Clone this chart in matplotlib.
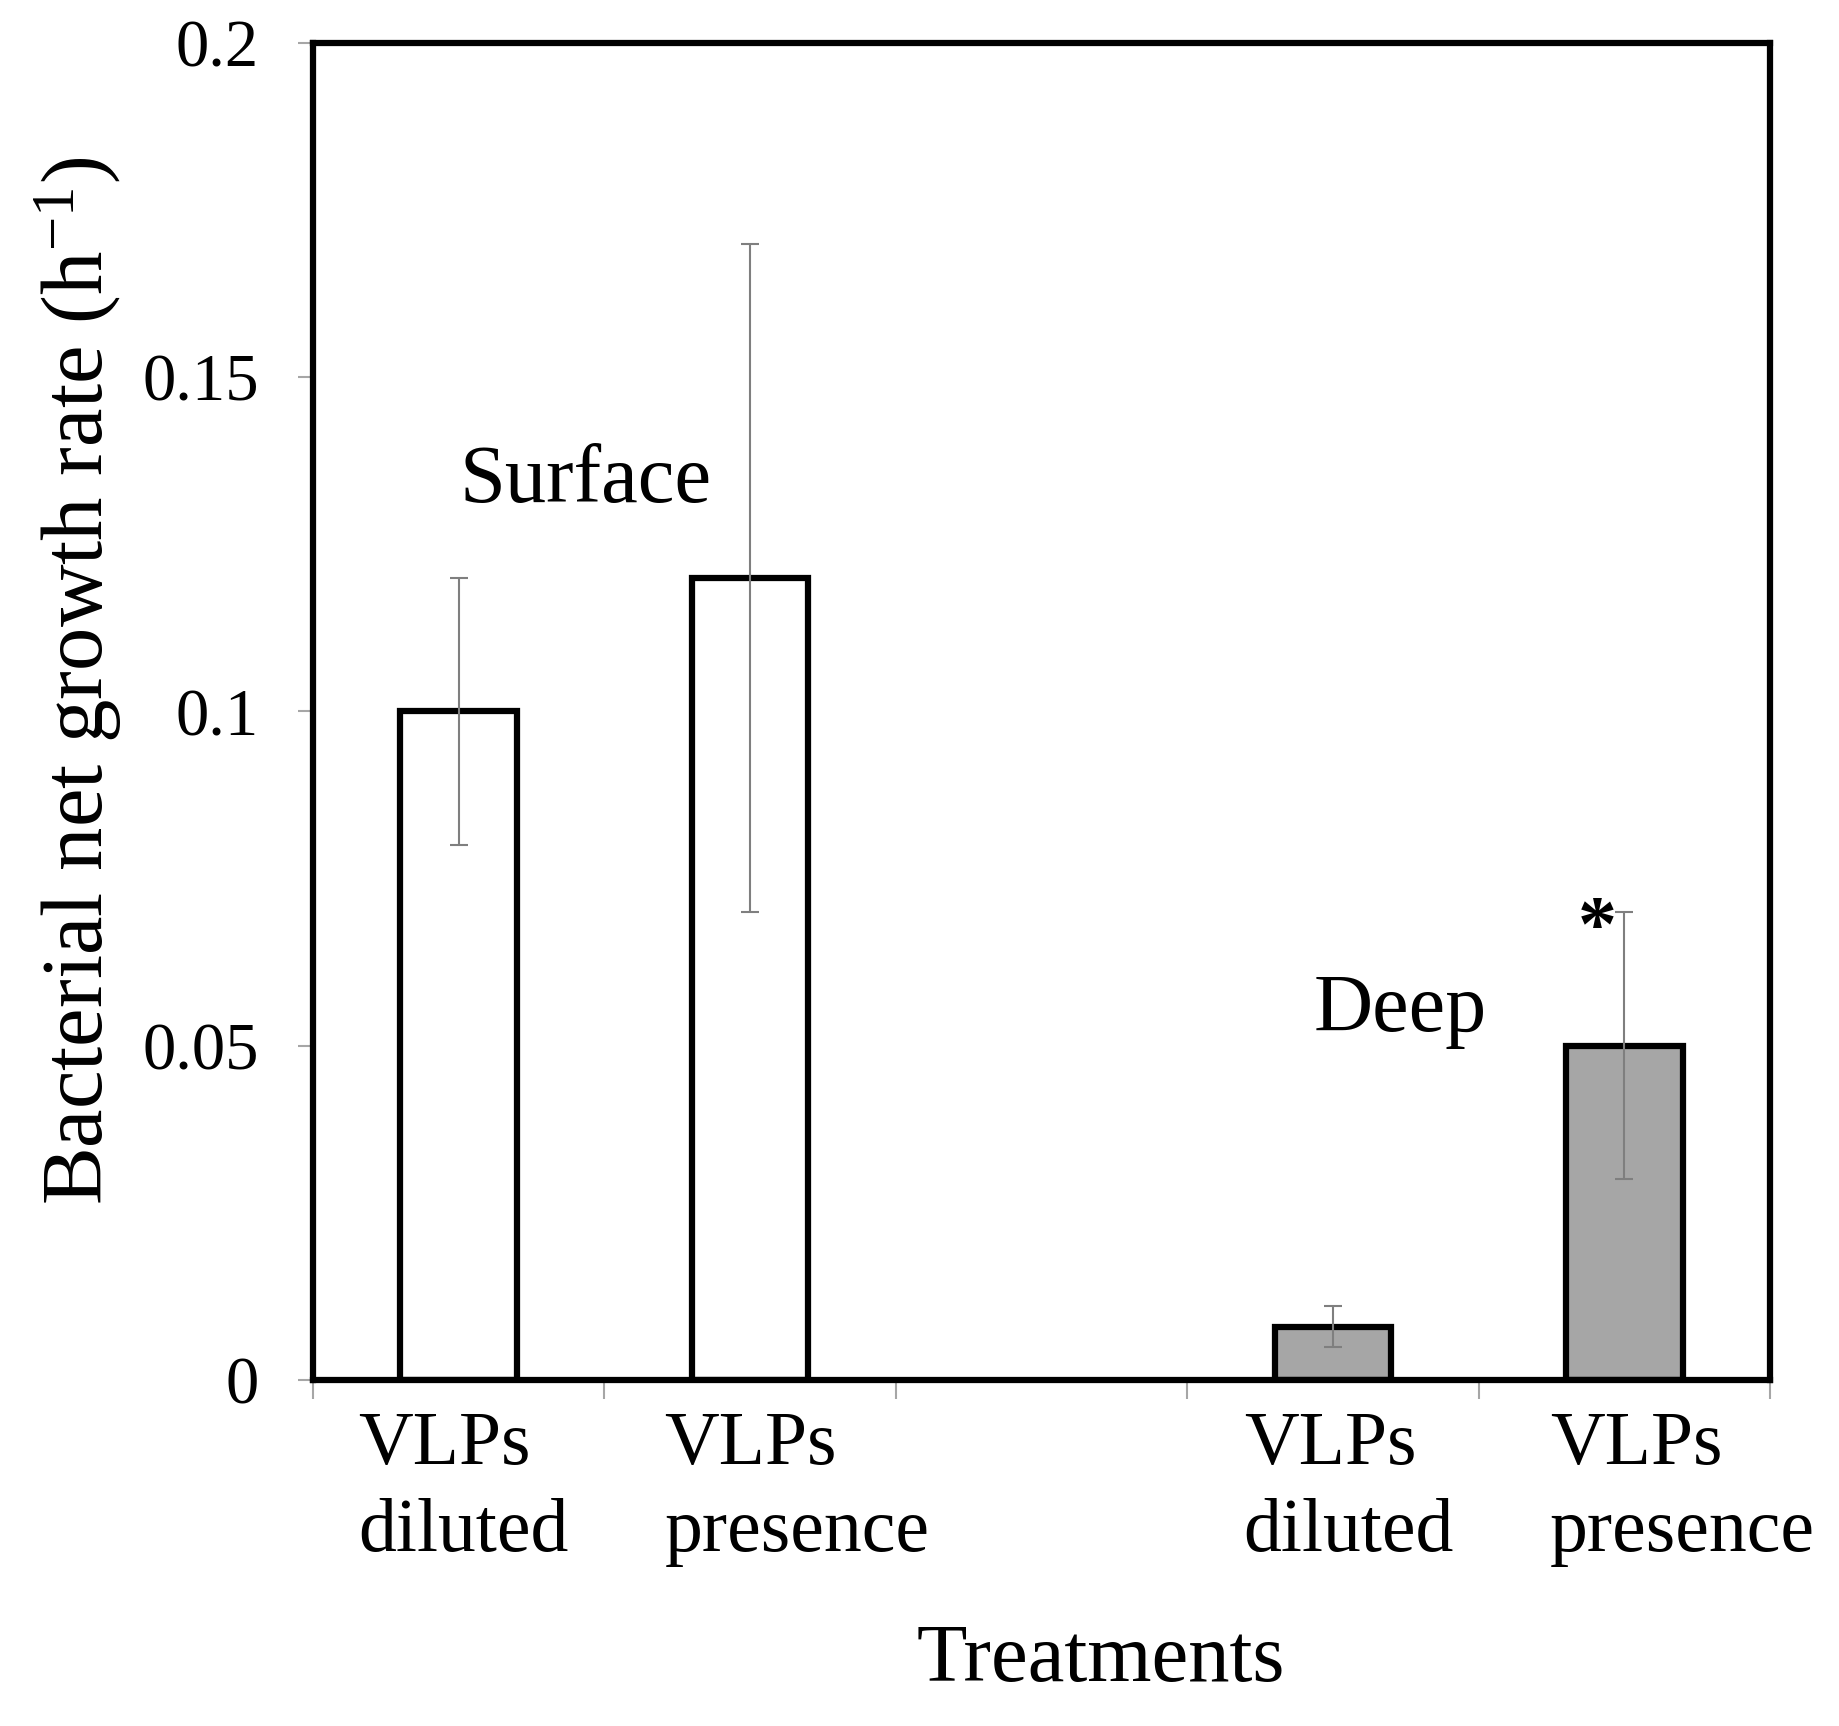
import matplotlib
matplotlib.use('Agg')
import matplotlib.pyplot as plt
import matplotlib.transforms as mtransforms
import numpy as np

# values
categories = ['VLPs\ndiluted', 'VLPs\npresence', '', 'VLPs\ndiluted', 'VLPs\npresence']
surface_pos = [0, 1]
surface_values = [0.10, 0.12]
surface_errors = [0.02, 0.05]
deep_pos = [3, 4]
deep_values = [0.008, 0.05]
deep_errors = [0.003, 0.02]
y_ticks = [0, 0.05, 0.1, 0.15, 0.2]
y_tick_labels = ['0', '0.05', '0.1', '0.15', '0.2']

# horizontal nudges (pixels) of the category labels, as placed in the original
label_shift_px = [5, 47, 0, 16, 58]

plt.rcParams['font.family'] = ['Liberation Serif', 'DejaVu Serif']
plt.rcParams['mathtext.fontset'] = 'custom'
plt.rcParams['mathtext.rm'] = 'Liberation Serif'
plt.rcParams['mathtext.it'] = 'Liberation Serif:italic'

W, H = 1840, 1726
fig = plt.figure(figsize=(W / 100, H / 100), dpi=100)
ax = fig.add_axes([313 / W, 1 - 1380 / H, 1457 / W, 1337 / H])

# bars
ax.bar(surface_pos, surface_values, width=0.4, color='white',
       edgecolor='black', linewidth=4.5, zorder=2)
ax.bar(deep_pos, deep_values, width=0.4, color='#a6a6a6',
       edgecolor='black', linewidth=4.5, zorder=2)

# error bars
ax.errorbar(surface_pos + deep_pos, surface_values + deep_values,
            yerr=surface_errors + deep_errors, fmt='none', ecolor='#7f7f7f',
            elinewidth=1.5, capsize=6.5, capthick=1.5, zorder=3)

ax.set_xlim(-0.5, 4.5)
ax.set_ylim(0, 0.2)

for s in ax.spines.values():
    s.set_linewidth(4.5)
    s.set_color('black')
    s.set_zorder(4)

# x axis: labels in slot centres, tick marks on slot boundaries
ax.set_xticks(range(len(categories)))
ax.set_xticklabels(categories)
ax.set_xticks(np.arange(-0.5, len(categories), 1), minor=True)
ax.tick_params(axis='x', which='major', length=0, pad=22, labelsize=54.5)
ax.tick_params(axis='x', which='minor', length=14, width=1.5,
               color='#a6a6a6', direction='out')
for lbl, dx in zip(ax.get_xticklabels(), label_shift_px):
    lbl.set_multialignment('left')
    lbl.set_linespacing(1.35)
    lbl.set_transform(lbl.get_transform() +
                      mtransforms.ScaledTranslation(dx / 100, 0, fig.dpi_scale_trans))

ax.set_yticks(y_ticks)
ax.set_yticklabels(y_tick_labels)
ax.tick_params(axis='y', length=11, width=1.5, color='#a6a6a6',
               pad=28, labelsize=48)

# annotations
ax.text(0.437, 0.1313, 'Surface', fontsize=59.5, ha='center', va='baseline')
ax.text(3.23, 0.0522, 'Deep', fontsize=59, ha='center', va='baseline')
ax.text(3.906, 0.0645, '*', fontsize=56, fontweight='bold',
        ha='center', va='baseline')

# axis titles
fig.text(103 / W, 1 - 681 / H, r'Bacterial net growth rate (h$^{-1}$)',
         fontsize=62.5, rotation=90, rotation_mode='anchor',
         ha='center', va='baseline')
fig.text(1101 / W, 1 - 1681 / H, 'Treatments', fontsize=59.5,
         ha='center', va='baseline')

fig.savefig('out.png', dpi=100)
